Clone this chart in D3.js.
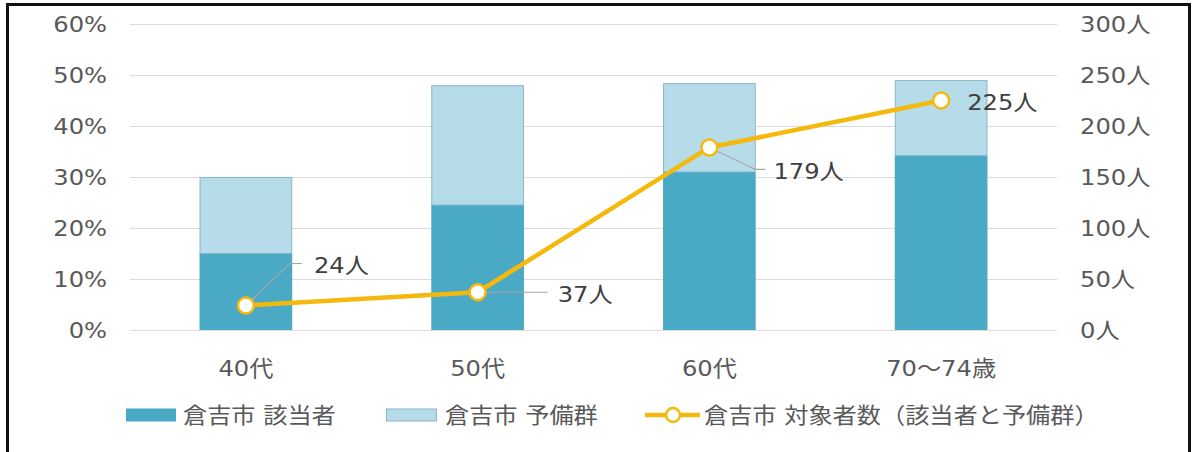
<!DOCTYPE html>
<html lang="ja">
<head>
<meta charset="utf-8">
<script src="https://cdn.jsdelivr.net/npm/d3@7"></script>
<style>
  html, body { margin: 0; padding: 0; background: #fff; }
  svg { display: block; }
  text { font-family: "DejaVu Sans", "Noto Sans CJK JP", sans-serif; }
</style>
</head>
<body>
<svg id="chart" width="1196" height="452"></svg>
<script>
// Age groups along the x axis
const categories = ["40代", "50代", "60代", "70～74歳"];
// Share of people who meet the criteria (該当者)
const gaitoRate = [0.15, 0.245, 0.31, 0.342];
// Share of the pre-risk group (予備群), stacked on top
const yobiRate = [0.15, 0.235, 0.174, 0.148];
// Number of people targeted (該当者と予備群), right axis
const targetCount = [24, 37, 179, 225];
// Tick values
const leftTicks = [0, 0.1, 0.2, 0.3, 0.4, 0.5, 0.6];
const rightTicks = [0, 50, 100, 150, 200, 250, 300];
// Legend labels
const seriesNames = ["倉吉市 該当者", "倉吉市 予備群", "倉吉市 対象者数（該当者と予備群）"];

const COLORS = {
  dark: "#4aaac5",
  light: "#b5dce8",
  lightStroke: "#86b9c9",
  line: "#f4b90c",
  grid: "#dcdcdc",
  axisText: "#595959",
  labelText: "#404040",
  leader: "#a6a6a6"
};
const FONT_SIZE = 22;
const SX = 1.1; // slight horizontal widening of the glyphs

const svg = d3.select("#chart");

// Frame around the chart
svg.append("rect")
  .attr("x", 7.5).attr("y", 4.5)
  .attr("width", 1182).attr("height", 470)
  .attr("fill", "#fff").attr("stroke", "#111").attr("stroke-width", 3);

const plot = { left: 130, right: 1057, top: 24, bottom: 330 };

const x = d3.scaleBand().domain(categories)
  .range([plot.left, plot.right]).paddingInner(0.6).paddingOuter(0.3);
const yL = d3.scaleLinear().domain([0, 0.6]).range([plot.bottom, plot.top]);
const yR = d3.scaleLinear().domain([0, 300]).range([plot.bottom, plot.top]);

// Text helper: places text with a horizontal widening about its anchor point
function putText(g, str, px, py, anchor, color) {
  return g.append("text")
    .attr("transform", `translate(${px},${py}) scale(${SX},1)`)
    .attr("text-anchor", anchor)
    .attr("dy", "0.36em")
    .attr("font-size", FONT_SIZE)
    .attr("fill", color)
    .text(str);
}

// Gridlines + left axis
const leftAxis = svg.append("g")
  .attr("transform", `translate(${plot.left},0)`)
  .call(d3.axisLeft(yL).tickValues(leftTicks)
    .tickSize(-(plot.right - plot.left)).tickFormat(d3.format(".0%")));
leftAxis.select(".domain").remove();
leftAxis.selectAll("line").attr("stroke", COLORS.grid).attr("stroke-width", 1.2);
leftAxis.selectAll("text")
  .attr("x", null).attr("dy", "0.36em")
  .attr("transform", `translate(-23,0) scale(${SX},1)`)
  .attr("font-size", FONT_SIZE).attr("fill", COLORS.axisText)
  .attr("font-family", null);

// Right axis labels
const rightAxis = svg.append("g")
  .attr("transform", `translate(${plot.right},0)`)
  .call(d3.axisRight(yR).tickValues(rightTicks).tickSize(0).tickFormat(d => d + "人"));
rightAxis.select(".domain").remove();
rightAxis.selectAll("text")
  .attr("x", null).attr("dy", "0.36em")
  .attr("transform", `translate(23,0) scale(${SX},1)`)
  .attr("font-size", FONT_SIZE).attr("fill", COLORS.axisText)
  .attr("font-family", null);

// Category labels
const xAxis = svg.append("g")
  .attr("transform", `translate(0,${plot.bottom})`)
  .call(d3.axisBottom(x).tickSize(0));
xAxis.select(".domain").remove();
xAxis.selectAll("text")
  .attr("y", null).attr("dy", "0.36em")
  .attr("transform", `translate(0,38) scale(${SX},1)`)
  .attr("font-size", FONT_SIZE).attr("fill", COLORS.axisText)
  .attr("font-family", null);

// Stacked bars
const rows = categories.map((c, i) => ({ cat: c, gaito: gaitoRate[i], yobi: yobiRate[i] }));
const stacked = d3.stack().keys(["gaito", "yobi"])(rows);
const barStyle = {
  gaito: { fill: COLORS.dark, stroke: "none" },
  yobi: { fill: COLORS.light, stroke: COLORS.lightStroke }
};
stacked.forEach(layer => {
  svg.append("g").selectAll("rect")
    .data(layer)
    .join("rect")
    .attr("x", d => x(d.data.cat) + (layer.key === "yobi" ? 0.5 : 0))
    .attr("width", x.bandwidth() - (layer.key === "yobi" ? 1 : 0))
    .attr("y", d => yL(d[1]) + (layer.key === "yobi" ? 0.5 : 0))
    .attr("height", d => yL(d[0]) - yL(d[1]) - (layer.key === "yobi" ? 0.5 : 0))
    .attr("fill", barStyle[layer.key].fill)
    .attr("stroke", barStyle[layer.key].stroke)
    .attr("stroke-width", 1);
});

// Count line
const pts = categories.map((c, i) => ({ cx: x(c) + x.bandwidth() / 2, cy: yR(targetCount[i]), v: targetCount[i] }));

// Label placement relative to each marker: leader path end and text position
const labelLayout = [
  { leader: [[44, -42], [56, -42]], text: [68, -40] },
  { leader: [[70, 0]], text: [80, 2] },
  { leader: [[46, 22], [56, 22]], text: [64, 24] },
  { leader: null, text: [26, 2] }
];

// Leader lines (under the line)
const leaders = svg.append("g");
pts.forEach((p, i) => {
  const L = labelLayout[i];
  if (!L.leader) return;
  const path = d3.path();
  path.moveTo(p.cx, p.cy);
  L.leader.forEach(([dx, dy]) => path.lineTo(p.cx + dx, p.cy + dy));
  leaders.append("path").attr("d", path.toString())
    .attr("fill", "none").attr("stroke", COLORS.leader).attr("stroke-width", 1.2);
});

svg.append("path")
  .datum(pts)
  .attr("d", d3.line().x(d => d.cx).y(d => d.cy))
  .attr("fill", "none")
  .attr("stroke", COLORS.line)
  .attr("stroke-width", 4.5)
  .attr("stroke-linejoin", "round");

svg.append("g").selectAll("circle")
  .data(pts)
  .join("circle")
  .attr("cx", d => d.cx).attr("cy", d => d.cy)
  .attr("r", 8)
  .attr("fill", "#fff")
  .attr("stroke", COLORS.line)
  .attr("stroke-width", 2.5);

// Data labels
const labels = svg.append("g");
pts.forEach((p, i) => {
  const [tx, ty] = labelLayout[i].text;
  putText(labels, p.v + "人", p.cx + tx, p.cy + ty, "start", COLORS.labelText);
});

// Legend
const legend = svg.append("g");
const ly = 415;
legend.append("rect").attr("x", 126).attr("y", ly - 6.5).attr("width", 50).attr("height", 13)
  .attr("fill", COLORS.dark);
putText(legend, seriesNames[0], 183, ly, "start", COLORS.axisText);

legend.append("rect").attr("x", 386.5).attr("y", ly - 6).attr("width", 50).attr("height", 12)
  .attr("fill", COLORS.light).attr("stroke", COLORS.lightStroke).attr("stroke-width", 1);
putText(legend, seriesNames[1], 445, ly, "start", COLORS.axisText);

legend.append("line").attr("x1", 645).attr("x2", 700).attr("y1", ly).attr("y2", ly)
  .attr("stroke", COLORS.line).attr("stroke-width", 4.5);
legend.append("circle").attr("cx", 673).attr("cy", ly).attr("r", 7)
  .attr("fill", "#fff").attr("stroke", COLORS.line).attr("stroke-width", 2.5);
putText(legend, seriesNames[2], 704, ly, "start", COLORS.axisText);
</script>
</body>
</html>
